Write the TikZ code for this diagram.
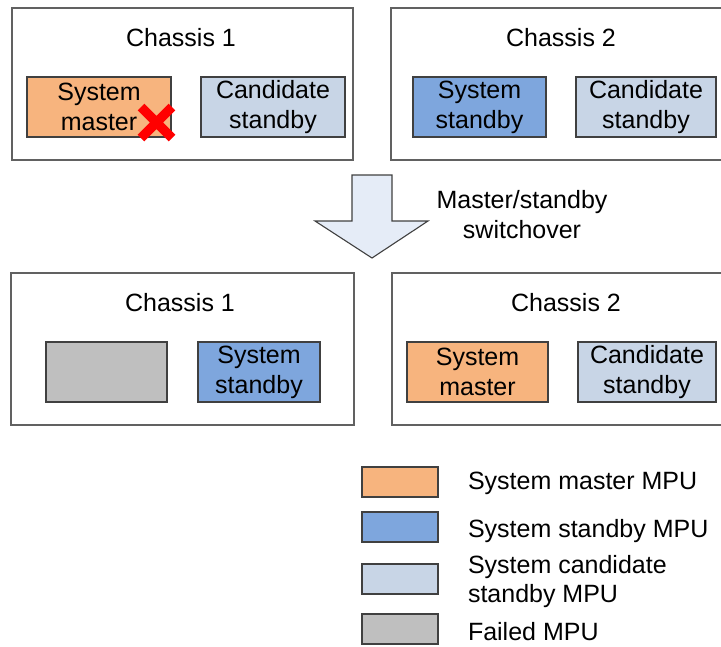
\documentclass[tikz,border=0pt]{standalone}
\usepackage{fontspec}
\setmainfont{Liberation Sans}
\begin{document}
\begin{tikzpicture}[x=1pt,y=-1pt,
  every node/.style={font=\fontsize{25}{30}\selectfont, inner sep=0pt, outer sep=0pt},
  chassis/.style={draw=black!62, line width=1.4pt, fill=white},
  mpu/.style={draw=black!75, line width=1.1pt, minimum height=60pt, align=center},
  master/.style={mpu, fill=mastercol},
  standby/.style={mpu, fill=standbycol},
  candidate/.style={mpu, fill=candcol},
  failed/.style={mpu, fill=failcol},
  title/.style={anchor=center},
  legtext/.style={anchor=base west, align=left},
  swatch/.style={draw=black!75, line width=1.1pt, minimum width=76pt, minimum height=30pt}
]
\definecolor{mastercol}{HTML}{F7B47E}
\definecolor{standbycol}{HTML}{7EA6DD}
\definecolor{candcol}{HTML}{C8D5E6}
\definecolor{failcol}{HTML}{BFBFBF}
\definecolor{arrowcol}{HTML}{E5ECF7}
\useasboundingbox (0,0) rectangle (721,646);
\clip (0,0) rectangle (721,646);

% ---- before the switchover ----
\draw[chassis] (12,8) rectangle (353,160);
\node[title] (t1a) at (181,38) {Chassis 1};
\node[master, minimum width=144pt] (sm1) at (99,107) {System\\master};
\node[candidate, minimum width=144pt] (cs1) at (273,107) {Candidate\\standby};
\draw[red, line width=9.5pt] (141,107) -- (172,138)
                             (141,138) -- (172,107);

\draw[chassis] (391,8) rectangle (735,160);
\node[title] (t2a) at (561,38) {Chassis 2};
\node[standby, minimum width=133pt] (ss2) at (479.5,107) {System\\standby};
\node[candidate, minimum width=140pt] (cs2) at (646,107) {Candidate\\standby};

% ---- switchover arrow ----
\draw[draw=black!75, line width=1.1pt, fill=arrowcol, line join=miter]
  (352,175) -- (392,175) -- (392,221) -- (428,221) -- (372,258)
  -- (315,221) -- (352,221) -- cycle;
\node[align=center] (sw) at (522,215) {Master/standby\\switchover};

% ---- after the switchover ----
\draw[chassis] (11,273) rectangle (354,425);
\node[title] (t1b) at (180,303) {Chassis 1};
\node[failed, minimum width=121pt] (fl1) at (106.5,372) {};
\node[standby, minimum width=122pt] (ss1) at (259,372) {System\\standby};

\draw[chassis] (392,273) rectangle (735,425);
\node[title] (t2b) at (566,303) {Chassis 2};
\node[master, minimum width=141pt] (sm2) at (477.5,372) {System\\master};
\node[candidate, minimum width=138pt] (cs2b) at (647,372) {Candidate\\standby};

% ---- legend ----
\node[swatch, fill=mastercol]  (l1) at (400,482) {};
\node[swatch, fill=standbycol] (l2) at (400,527) {};
\node[swatch, fill=candcol]    (l3) at (400,579) {};
\node[swatch, fill=failcol]    (l4) at (400,629) {};
\node[legtext] (lt1) at (468,489) {System master MPU};
\node[legtext] (lt2) at (468,537) {System standby MPU};
\node[legtext] (lt3) at (468,573) {System candidate};
\node[legtext] (lt3b) at (468,602) {standby MPU};
\node[legtext] (lt4) at (468,640) {Failed MPU};
\end{tikzpicture}
\end{document}
